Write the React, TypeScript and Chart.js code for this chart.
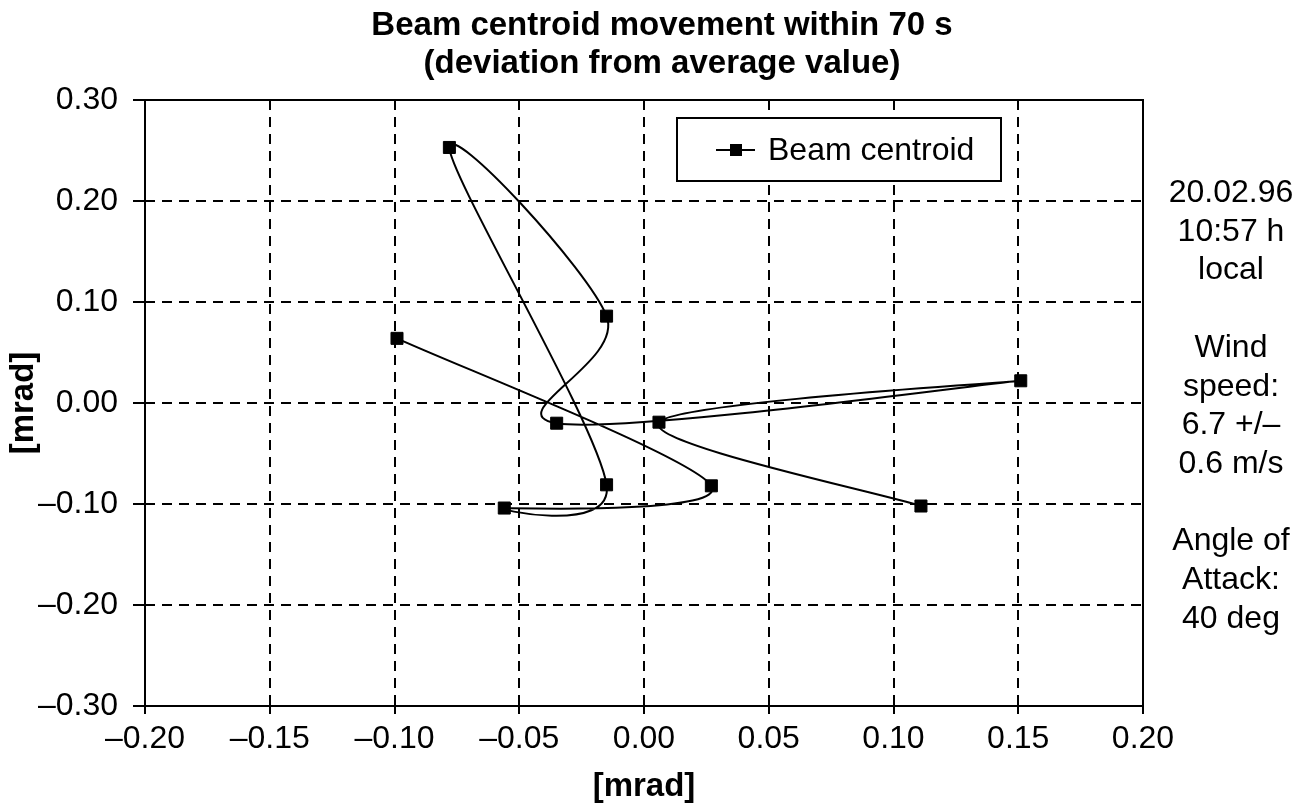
import React, { useEffect, useRef } from "react";
import { Chart, registerables } from "chart.js";

Chart.register(...registerables);

// Beam centroid path, in time order
const centroidX = [-0.099, 0.027, -0.056, -0.015, -0.078, -0.015, -0.035, 0.151, 0.006, 0.111];
const centroidY = [0.064, -0.082, -0.104, -0.081, 0.253, 0.086, -0.020, 0.022, -0.019, -0.102];

const seriesName = "Beam centroid";
const titleLines = ["Beam centroid movement within 70 s", "(deviation from average value)"];
const xAxisTitle = "[mrad]";
const yAxisTitle = "[mrad]";
const sideNotes = ["20.02.96", "10:57 h", "local", "", "Wind", "speed:", "6.7 +/\u2013", "0.6 m/s", "", "Angle of", "Attack:", "40 deg"];

const xMin = -0.2, xMax = 0.2, xStep = 0.05;
const yMin = -0.3, yMax = 0.3, yStep = 0.1;

const FONT = '"Liberation Sans", Arial, sans-serif';

const fmt = (v: number) => {
  if (Math.abs(v) < 1e-9) return "0.00";
  return (v < 0 ? "\u2013" : "") + Math.abs(v).toFixed(2);
};

// Spreadsheet-style smoothing: Catmull-Rom tangents (1/6), arms capped at half the segment
const smoothPlugin = {
  id: "sheetSmooth",
  beforeDatasetDraw(chart: any, args: any) {
    const meta = args.meta;
    const line = meta.dataset;
    if (!line || !line.updateControlPoints) return;
    line.updateControlPoints(chart.chartArea, meta.iScale ? meta.iScale.axis : "x");
    const pts = meta.data;
    const n = pts.length;
    const f = 1 / 6;
    for (let i = 0; i < n; i++) {
      const p = pts[i];
      const prev = pts[Math.max(0, i - 1)];
      const next = pts[Math.min(n - 1, i + 1)];
      const tx = (next.x - prev.x) * f;
      const ty = (next.y - prev.y) * f;
      const tl = Math.hypot(tx, ty);
      const dPrev = Math.hypot(p.x - prev.x, p.y - prev.y);
      const dNext = Math.hypot(next.x - p.x, next.y - p.y);
      const s1 = tl > 0 && tl > dPrev / 2 ? dPrev / 2 / tl : 1;
      const s2 = tl > 0 && tl > dNext / 2 ? dNext / 2 / tl : 1;
      p.cp1x = p.x - tx * s1;
      p.cp1y = p.y - ty * s1;
      p.cp2x = p.x + tx * s2;
      p.cp2y = p.y + ty * s2;
    }
  },
};

const textPlugin = {
  id: "texts",
  beforeDatasetsDraw(chart: any) {
    const { ctx, chartArea } = chart;
    ctx.save();
    ctx.strokeStyle = "#000";
    ctx.lineWidth = 2;
    ctx.setLineDash([]);
    ctx.strokeRect(chartArea.left, chartArea.top, chartArea.right - chartArea.left, chartArea.bottom - chartArea.top);
    ctx.restore();
  },
  afterDraw(chart: any) {
    const { ctx, chartArea } = chart;
    ctx.save();
    ctx.fillStyle = "#000";
    // Title
    ctx.font = `bold 33px ${FONT}`;
    ctx.textAlign = "center";
    ctx.textBaseline = "alphabetic";
    ctx.fillText(titleLines[0], 662, 35);
    ctx.fillText(titleLines[1], 662, 73);
    // Axis titles
    const cx = (chartArea.left + chartArea.right) / 2;
    ctx.fillText(xAxisTitle, cx, 796);
    ctx.save();
    ctx.translate(33, (chartArea.top + chartArea.bottom) / 2);
    ctx.rotate(-Math.PI / 2);
    ctx.fillText(yAxisTitle, 0, 0);
    ctx.restore();
    // Side notes
    ctx.font = `32px ${FONT}`;
    sideNotes.forEach((t, i) => {
      if (t) ctx.fillText(t, 1231, 202 + i * 38.7);
    });
    // Legend
    ctx.strokeStyle = "#000";
    ctx.lineWidth = 2;
    ctx.setLineDash([]);
    ctx.fillStyle = "#fff";
    ctx.fillRect(677, 118, 324, 63);
    ctx.strokeRect(677, 118, 324, 63);
    ctx.beginPath();
    ctx.moveTo(716, 150);
    ctx.lineTo(755, 150);
    ctx.stroke();
    ctx.fillStyle = "#000";
    ctx.fillRect(730, 144, 12, 12);
    ctx.font = `32px ${FONT}`;
    ctx.textAlign = "left";
    ctx.textBaseline = "middle";
    ctx.fillText(seriesName, 768, 151);
    ctx.restore();
  },
};

export default function App() {
  const ref = useRef<HTMLCanvasElement | null>(null);
  useEffect(() => {
    if (!ref.current) return;
    const data = centroidX.map((x, i) => ({ x, y: centroidY[i] }));
    const chart = new Chart(ref.current, {
      type: "scatter",
      data: {
        datasets: [
          {
            label: seriesName,
            data,
            showLine: true,
            tension: 0.4,
            borderColor: "#000",
            borderWidth: 2,
            backgroundColor: "#000",
            pointStyle: "rect",
            pointRadius: 8.5,
            pointBorderWidth: 1,
            pointBackgroundColor: "#000",
            pointBorderColor: "#000",
          } as any,
        ],
      },
      options: {
        responsive: false,
        animation: false,
        layout: { padding: { top: 100, right: 157, left: 0, bottom: 0 } },
        plugins: { legend: { display: false }, title: { display: false }, tooltip: { enabled: false } },
        scales: {
          x: {
            type: "linear",
            min: xMin,
            max: xMax,
            afterFit: (s: any) => { s.height = 98; },
            ticks: {
              stepSize: xStep,
              autoSkip: false,
              maxRotation: 0,
              padding: 6,
              color: "#000",
              font: { family: FONT, size: 32 },
              callback: (v: any) => fmt(Number(v)),
            },
            grid: { color: "#000", lineWidth: 2, tickLength: 8, tickWidth: 2, tickColor: "#000", tickBorderDash: [], borderDash: [10, 7] } as any,
            border: { display: false, dash: [10, 7] },
          },
          y: {
            type: "linear",
            min: yMin,
            max: yMax,
            afterFit: (s: any) => { s.width = 145; },
            ticks: {
              stepSize: yStep,
              autoSkip: false,
              padding: 15,
              color: "#000",
              font: { family: FONT, size: 32 },
              callback: (v: any) => fmt(Number(v)),
            },
            grid: { color: "#000", lineWidth: 2, tickLength: 12, tickWidth: 2, tickColor: "#000", tickBorderDash: [], borderDash: [10, 7] } as any,
            border: { display: false, dash: [10, 7] },
          },
        },
      },
      plugins: [smoothPlugin, textPlugin],
    });
    return () => chart.destroy();
  }, []);
  return (
    <div style={{ position: "absolute", left: 0, top: 0, width: 1300, height: 804, background: "#fff" }}>
      <canvas ref={ref} width={1300} height={804} style={{ display: "block" }} />
    </div>
  );
}
